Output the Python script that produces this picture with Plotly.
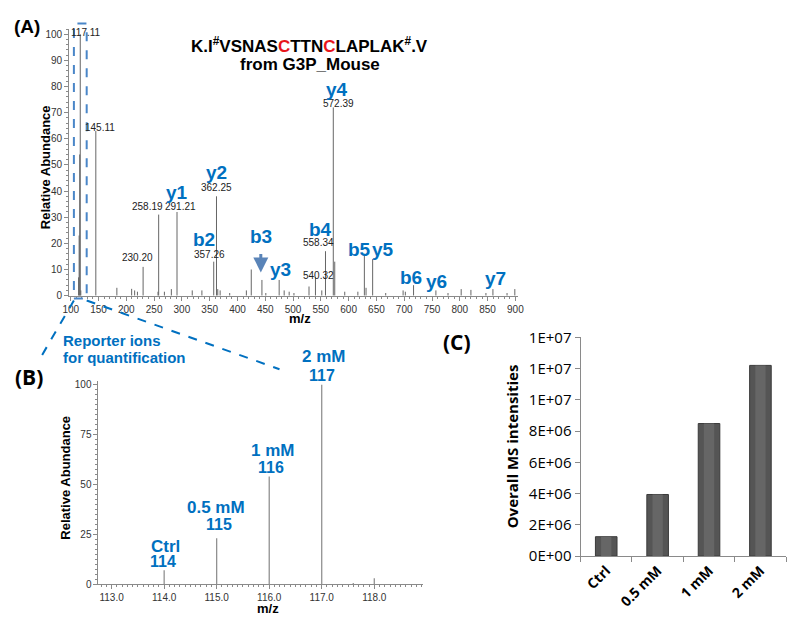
import plotly.graph_objects as go

W, H = 800, 628
def px(x): return x / W
def py(y): return 1 - y / H

# ---------------- Panel A data (MS/MS spectrum) ----------------
a_mz = [114.1, 115.1, 116.1, 117.11, 118.1, 145.11, 183, 209.6, 215, 220, 230.20, 257.0, 258.19,
        268.5, 281, 291.21, 318.6, 336, 357.26, 362.25, 364.5, 368.8, 386, 416, 424.8, 444.0,
        451, 475.0, 484, 493, 501.6, 528.7, 540.32, 551.7, 558.34, 572.39, 575.0, 593, 616.6,
        628.3, 631.3, 643.2, 666.7, 698, 702, 716.8, 757.0, 778.8, 802.5, 820.0, 847, 859.6,
        885, 899]
a_int = [7, 23, 54, 100, 2, 63, 3, 2.6, 2, 1.5, 11, 1.5, 31,
         1.5, 2.5, 32, 2, 2, 13, 38, 2.5, 2, 1, 2, 10, 6,
         1, 6, 2, 1.5, 1, 3.5, 7, 2, 17, 72, 13, 1.5, 1.5,
         16, 3, 14, 1, 2, 1.5, 4, 2, 1, 2.5, 2.2, 1, 2.5,
         1, 2.5]
a_mass_labels = ["117.11", "145.11", "230.20", "258.19", "291.21", "357.26", "362.25",
                 "540.32", "558.34", "572.39"]
a_ion_labels = ["y1", "y2", "b2", "b3", "y3", "b4", "y4", "b5", "y5", "b6", "y6", "y7"]
a_xticks = [100, 150, 200, 250, 300, 350, 400, 450, 500, 550, 600, 650, 700, 750, 800, 850, 900]
a_yticks = [0, 10, 20, 30, 40, 50, 60, 70, 80, 90, 100]

# ---------------- Panel B data (reporter ions) ----------------
b_mz = [114.0, 115.0, 116.0, 117.0, 117.6, 118.0]
b_int = [7, 23, 54, 100, 0.6, 3]
b_conditions = ["Ctrl", "0.5 mM", "1 mM", "2 mM"]
b_reporters = ["114", "115", "116", "117"]
b_xticks = [113.0, 114.0, 115.0, 116.0, 117.0, 118.0]
b_yticks = [0, 25, 50, 75, 100]

# ---------------- Panel C data (bar chart) ----------------
c_categories = ["Ctrl", "0.5 mM", "1 mM", "2 mM"]
c_values = [1.24e6, 3.94e6, 8.48e6, 1.22e7]
c_tickvals = [0, 2e6, 4e6, 6e6, 8e6, 1.0e7, 1.2e7, 1.4e7]
c_ticktext = ["0E+00", "2E+06", "4E+06", "6E+06", "8E+06", "1E+07", "1E+07", "1E+07"]

BLUE = "#0070C0"
STICK = "#666666"
AXC = "#8a8a8a"
TICKF = dict(family="Liberation Sans, Arial, sans-serif", size=10, color="#333333")


def sticks(xs, ys):
    X, Y = [], []
    for x, y in zip(xs, ys):
        X += [x, x, None]
        Y += [0, y, None]
    return X, Y

fig = go.Figure()

ax, ay = sticks(a_mz, a_int)
fig.add_trace(go.Scatter(x=ax, y=ay, mode="lines", line=dict(color=STICK, width=1),
                         xaxis="x", yaxis="y", showlegend=False, hoverinfo="skip"))
bx, by = sticks(b_mz, b_int)
fig.add_trace(go.Scatter(x=bx, y=by, mode="lines", line=dict(color="#888888", width=1.2),
                         xaxis="x2", yaxis="y2", showlegend=False, hoverinfo="skip"))
fig.add_trace(go.Bar(x=c_categories, y=c_values, width=0.42,
                     marker=dict(color="#555555", line=dict(color="#3a3a3a", width=1)),
                     xaxis="x3", yaxis="y3", showlegend=False, hoverinfo="skip"))
fig.add_trace(go.Bar(x=c_categories, y=c_values, width=0.2,
                     marker=dict(color="#666666", line=dict(width=0)),
                     xaxis="x3", yaxis="y3", showlegend=False, hoverinfo="skip"))

fig.update_layout(
    xaxis=dict(domain=[px(63.1), px(519.6)], range=[97, 905], anchor="y",
               tickvals=a_xticks, ticks="outside", ticklen=4, tickcolor=AXC,
               showline=True, linecolor=AXC, linewidth=1, showgrid=False, zeroline=False,
               tickfont=TICKF, minor=dict(ticks="outside", dtick=10, ticklen=2, tickcolor=AXC)),
    yaxis=dict(domain=[py(294), py(18.6)], range=[0, 102], anchor="x",
               tickvals=a_yticks, ticks="outside", ticklen=4, tickcolor=AXC,
               showline=True, linecolor=AXC, linewidth=1, showgrid=False, zeroline=False,
               tickfont=TICKF, minor=dict(ticks="outside", dtick=2, ticklen=2, tickcolor=AXC)),
    xaxis2=dict(domain=[px(93), px(423)], range=[112.75, 118.93], anchor="y2",
                tickvals=b_xticks, tickformat=".1f", ticks="outside", ticklen=4, tickcolor=AXC,
                showline=True, linecolor=AXC, linewidth=1, showgrid=False, zeroline=False,
                tickfont=TICKF, minor=dict(ticks="outside", dtick=0.1, ticklen=2, tickcolor=AXC)),
    yaxis2=dict(domain=[py(592), py(382)], range=[0, 102], anchor="x2",
                tickvals=b_yticks, ticks="outside", ticklen=4, tickcolor=AXC,
                showline=True, linecolor=AXC, linewidth=1, showgrid=False, zeroline=False,
                tickfont=TICKF, minor=dict(ticks="outside", dtick=2.5, ticklen=2, tickcolor=AXC)),
    xaxis3=dict(domain=[px(583), px(792)], anchor="y3", type="category",
                ticks="outside", tickson="boundaries", ticklen=5, tickcolor=AXC,
                showline=True, linecolor=AXC, linewidth=1, showgrid=False, zeroline=False,
                tickangle=-45,
                tickfont=dict(family="Open Sans, sans-serif", size=14, color="#000000", weight="bold")),
    yaxis3=dict(domain=[py(563), py(337)], range=[0, 1.4e7], anchor="x3",
                tickvals=c_tickvals, ticktext=c_ticktext, ticks="outside", ticklen=5, tickcolor=AXC,
                showline=True, linecolor=AXC, linewidth=1, showgrid=False, zeroline=False,
                tickfont=dict(family="Open Sans, sans-serif", size=15, color="#000000")),
    barmode="overlay",
    width=W, height=H, margin=dict(l=0, r=0, t=0, b=0),
    paper_bgcolor="white", plot_bgcolor="white",
)

ann = []
def A(x, y, text, size, color="#000000", family="Liberation Sans, Arial, sans-serif",
      bold=False, angle=0, xanchor="center"):
    t = f"<b>{text}</b>" if bold else text
    ann.append(dict(x=px(x), y=py(y), xref="paper", yref="paper", text=t, showarrow=False,
                    font=dict(size=size, color=color, family=family), textangle=angle,
                    xanchor=xanchor, yanchor="middle"))

A(307, 35, "K.I<sup>#</sup>VSNAS<span style='color:#E8141B'>C</span>TTN"
           "<span style='color:#E8141B'>C</span>LAPLAK<sup>#</sup>.V", 17, bold=True)
A(308, 55, "from G3P_Mouse", 17, bold=True)
A(20, 16, "(A)", 19, bold=True)
A(22, 378, "(B)", 21, bold=True, family="Open Sans, sans-serif")
A(457, 342, "(C)", 21, bold=True, family="Open Sans, sans-serif")

A(40, 161, "Relative Abundance", 13, bold=True, angle=-90)
A(298, 318, "m/z", 13, bold=True)
A(60, 482, "Relative Abundance", 13, bold=True, angle=-90)
A(265, 617, "m/z", 13, bold=True)
A(513, 450, "Overall MS intensities", 15, bold=True, angle=-90, family="Open Sans, sans-serif")

mass_pos = [(80, 22), (95, 120), (133, 255), (143, 202), (176, 202), (205.5, 251), (213, 182),
            (316.5, 273), (316.5, 239), (336.5, 96)]
for t, (x, y) in zip(a_mass_labels, mass_pos):
    A(x, y, t, 10, color="#222222")

ion_pos = [(173, 187), (213, 167), (200, 236), (258, 233), (278, 267), (319, 226), (335, 81),
           (358, 246), (382, 246), (411, 275), (437, 279), (497, 276)]
for t, (x, y) in zip(a_ion_labels, ion_pos):
    A(x, y, t, 19, color=BLUE, bold=True)

cond_pos = [(161, 553), (212, 513), (270, 454), (322, 357)]
rep_pos = [(159, 569), (215, 530), (268, 471), (320, 376)]
for t, (x, y) in zip(b_conditions, cond_pos):
    A(x, y, t, 17, color=BLUE, bold=True)
for t, (x, y) in zip(b_reporters, rep_pos):
    A(x, y, t, 16, color=BLUE, bold=True)

A(55, 340, "Reporter ions", 15, color=BLUE, bold=True, xanchor="left")
A(55, 358, "for quantification", 15, color=BLUE, bold=True, xanchor="left")

ann.append(dict(x=px(258), y=py(270), xref="paper", yref="paper", ax=0, ay=-20, text="",
                showarrow=True, arrowhead=2, arrowsize=1, arrowwidth=3, arrowcolor="#5a84b8"))

fig.update_layout(annotations=ann)

DASH = "#4a86c8"
shapes = [
    dict(type="rect", xref="paper", yref="paper", x0=px(68), x1=px(81), y0=py(297), y1=py(13),
         line=dict(color=DASH, width=2, dash="dash")),
    dict(type="line", xref="paper", yref="paper", x0=px(68), y0=py(299), x1=px(33), y1=py(360),
         line=dict(color=BLUE, width=2, dash="dash")),
    dict(type="line", xref="paper", yref="paper", x0=px(81), y0=py(299), x1=px(277), y1=py(370),
         line=dict(color=BLUE, width=2, dash="dash")),
]
fig.update_layout(shapes=shapes)

fig.write_html("out.html", config={"displayModeBar": False},
               post_script="document.body.style.margin='0px';"
                           "document.documentElement.style.overflow='hidden';")
